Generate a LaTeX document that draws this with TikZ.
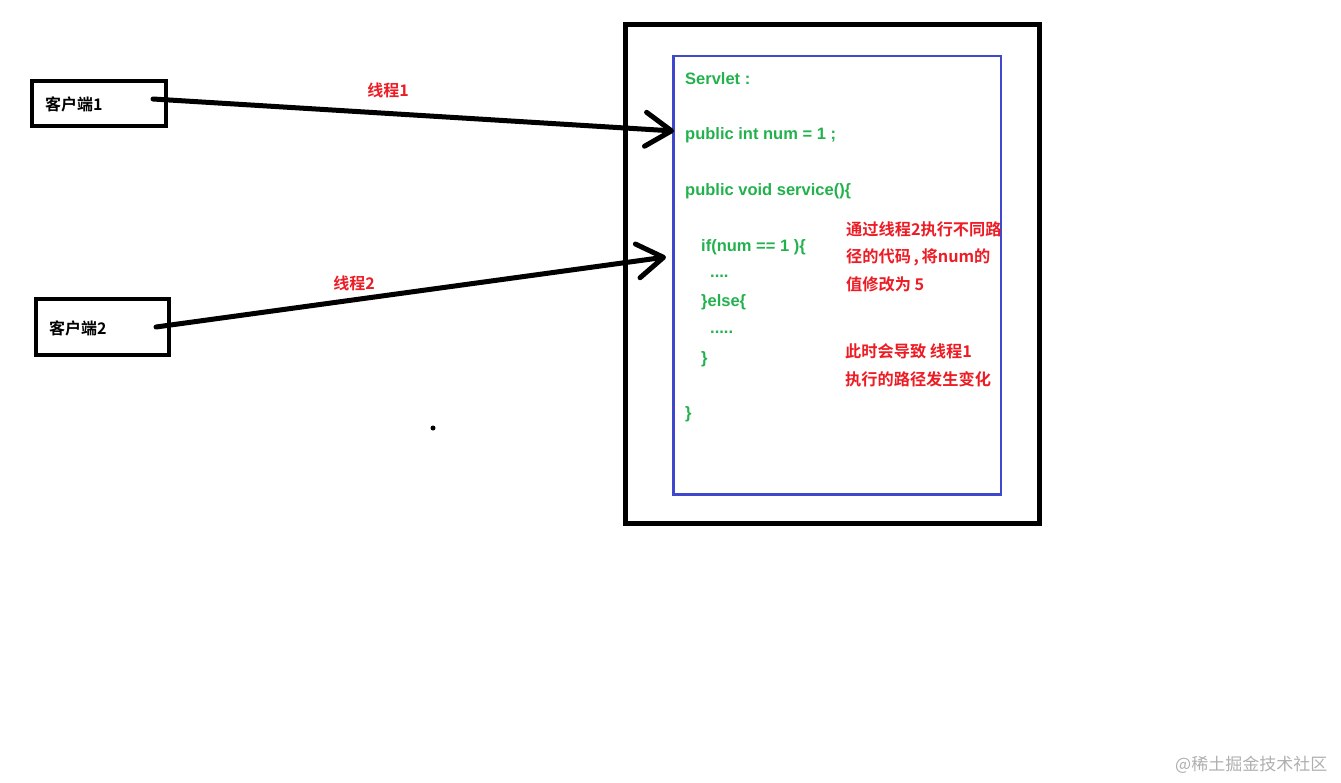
\documentclass[tikz,border=0pt]{standalone}
\usepackage{fontspec}
\usetikzlibrary{arrows.meta}
\newfontfamily\cjk{Noto Sans CJK SC}[BoldFont={Noto Sans CJK SC Bold}]
\newfontfamily\codefont{Liberation Sans}
\definecolor{pgreen}{RGB}{34,177,76}
\definecolor{pred}{RGB}{237,28,36}
\definecolor{pblue}{RGB}{63,72,204}
\definecolor{wgray}{RGB}{175,175,175}
\tikzset{
  box/.style={draw=black, line width=4pt},
  code/.style={anchor=west, inner sep=0pt, text=pgreen, font=\codefont\bfseries\fontsize{16.5}{19}\selectfont},
  note/.style={anchor=west, inner sep=0pt, text=pred, font=\cjk\bfseries\fontsize{16.2}{20}\selectfont},
  lbl/.style={inner sep=0pt, text=pred, font=\cjk\bfseries\fontsize{16}{19}\selectfont},
  ctext/.style={anchor=west, inner sep=0pt, font=\cjk\bfseries\fontsize{16}{19}\selectfont},
  thread/.style={line width=5pt, line cap=round, line join=round,
    -{Straight Barb[length=26pt, width=34pt, line cap=round, line join=round]}},
}
\begin{document}
\begin{tikzpicture}[x=1pt,y=-1pt]
\useasboundingbox (0,0) rectangle (1341,782);
% client boxes
\draw[box] (32,81) rectangle (166,126);
\draw[box] (36,299) rectangle (169,355);
\node[ctext] (c1) at (45,104) {客户端1};
\node[ctext] (c2) at (49,328) {客户端2};
% server boxes
\draw[line width=5pt] (625.5,24.5) rectangle (1039.5,523.5);
\draw[pblue, line width=2.5pt] (673.5,56) rectangle (1001,494.5);
% arrows
\coordinate (s1) at (153,99);
\coordinate (t1) at (674,131);
\coordinate (s2) at (156,327);
\coordinate (t2) at (666,257);
\draw[thread] (s1) -- (t1);
\draw[thread] (s2) -- (t2);
\node[lbl] (l1) at (388,90) {线程1};
\node[lbl] (l2) at (354,283) {线程2};
\fill (433,428) circle (2.5pt);
% code
\node[code] (k1) at (685,79) {Servlet :};
\node[code] (k2) at (685,135) {public int num = 1 ;};
\node[code] (k3) at (685,191) {public void service()\{};
\node[code] (k4) at (701,247) {if(num == 1 )\{};
\node[code] (k5) at (710,276) {....};
\node[code] (k6) at (701,302) {\}else\{};
\node[code] (k7) at (710,332) {.....};
\node[code] (k8) at (701,359) {\}};
\node[code] (k9) at (685,414) {\}};
% notes
\node[note] (n1) at (846,229) {通过线程2执行不同路};
\node[note] (n2) at (846,257) {径的代码\,,\,将num的};
\node[note] (n3) at (846,284) {值修改为 5};
\node[note] (n4) at (845,351) {此时会导致 线程1};
\node[note] (n5) at (845,379) {执行的路径发生变化};
% watermark
\node[anchor=west, inner sep=0pt, text=wgray, font=\cjk\fontsize{17}{20}\selectfont] (wm) at (1175,765) {@稀土掘金技术社区};
\end{tikzpicture}
\end{document}
